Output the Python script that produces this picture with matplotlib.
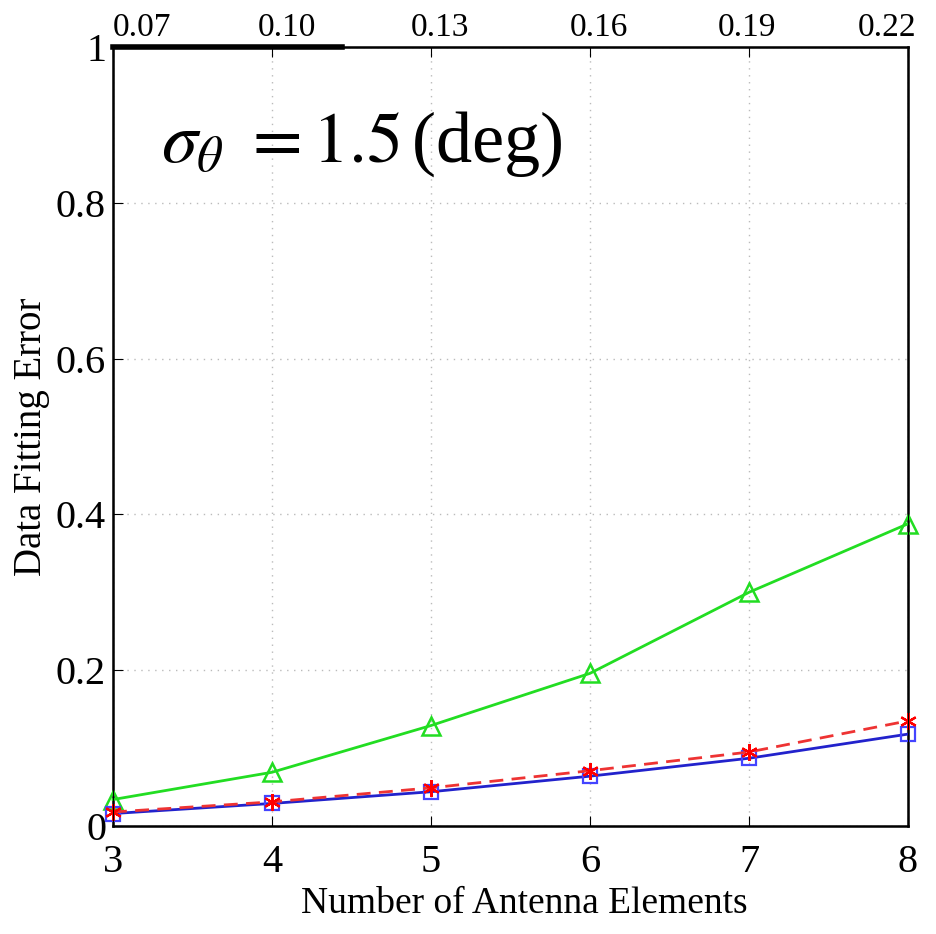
import matplotlib
matplotlib.use("Agg")
from matplotlib import pyplot as plt
from matplotlib import transforms

antennas = [3, 4, 5, 6, 7, 8]
top_labels = ['0.07', '0.10', '0.13', '0.16', '0.19', '0.22']
erro_verde = [0.034, 0.069, 0.129, 0.196, 0.300, 0.388]
erro_vermelho = [0.018, 0.031, 0.049, 0.071, 0.095, 0.135]
erro_azul = [0.016, 0.029, 0.044, 0.064, 0.087, 0.118]

# deslocamento horizontal (px) dos rotulos de cima
desloc_topo = [29, 15, 9, 9, -2, -21]

plt.rcParams['font.family'] = ['Liberation Serif', 'DejaVu Serif']
plt.rcParams['mathtext.fontset'] = 'stix'


def faz_grafico():
    fig = plt.figure(figsize=(9.36, 9.34), dpi=100)
    ax = fig.add_axes([0.1207, 0.1156, 0.8494, 0.8341])

    ax.plot(antennas, erro_verde, color='#22dd22', lw=2, marker='^',
            ms=13, mfc='none', mec='#22dd22', mew=1.8, zorder=3,
            clip_on=False)
    ax.plot(antennas, erro_azul, color='#2222cc', lw=2, marker='s',
            ms=10, mfc='none', mec='#4444ff', mew=1.6, zorder=3,
            clip_on=False)
    ax.plot(antennas, erro_vermelho, color='#ee3333', lw=2, ls=(0, (5, 3)),
            marker=(6, 2, 0), ms=12, mec='#ff0000', mew=1.6, zorder=4,
            clip_on=False)

    ax.set_xlim(3, 8)
    ax.set_ylim(0, 1)
    ax.set_xticks(antennas)
    ax.set_yticks([0, 0.2, 0.4, 0.6, 0.8, 1])
    ax.set_yticklabels(['0', '0.2', '0.4', '0.6', '0.8', '1'])
    ax.tick_params(labelsize=29, direction='in', length=7)
    ax.tick_params(axis='x', pad=13)
    ax.tick_params(axis='y', pad=5)
    ax.grid(True, ls=(0, (1, 4)), color='#bbbbbb', lw=1)

    for s in ax.spines.values():
        s.set_linewidth(1.8)

    top = ax.twiny()
    top.set_xlim(3, 8)
    top.set_xticks(antennas)
    top.set_xticklabels(top_labels)
    top.tick_params(labelsize=24, direction='in', length=7, pad=3)
    for lab, dx in zip(top.get_xticklabels(), desloc_topo):
        lab.set_transform(lab.get_transform() +
                          transforms.ScaledTranslation(dx / 100, 0,
                                                       fig.dpi_scale_trans))

    ax.plot([3, 4.44], [1, 1], color='black', lw=4, clip_on=False, zorder=5)

    ax.set_xlabel('Number of Antenna Elements', fontsize=27)
    ax.xaxis.set_label_coords(0.517, -0.078)
    ax.set_ylabel('Data Fitting Error', fontsize=28)
    ax.yaxis.set_label_coords(-0.079, 0.5)

    ax.text(3.3, 0.875, r'$\sigma_{\theta}\ =1.5\,$(deg)', fontsize=52,
            va='center', ha='left')

    fig.savefig('out.png', dpi=100)


if __name__ == "__main__":
    faz_grafico()
